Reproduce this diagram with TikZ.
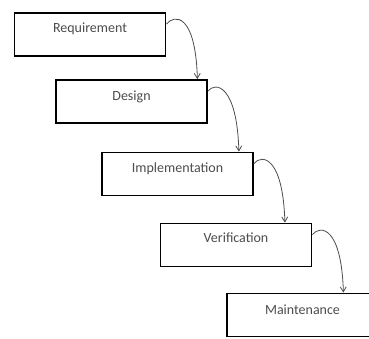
\documentclass[tikz,border=0pt]{standalone}
\usepackage{fontspec}
\setmainfont{Carlito}
\usetikzlibrary{arrows.meta}
\begin{document}
\begin{tikzpicture}[x=1pt,y=-1pt,
  stage/.style={draw=black, line width=1.8pt, minimum width=151pt, minimum height=43pt,
    inner sep=0pt, font=\fontsize{14}{16}\selectfont, text=black!70},
  flow/.style={draw=black!70, line width=0.8pt, -{Straight Barb[length=5pt,width=6pt]}}]
\useasboundingbox (0,0) rectangle (369,338);
\clip (0,0) rectangle (369,338);
\node[stage] (r1) at (90,34.5) {\raisebox{2.5pt}[0pt][0pt]{Requirement}};
\node[stage] (r2) at (131.5,101.5) {\raisebox{1pt}[0pt][0pt]{Design}};
\node[stage] (r3) at (177.5,174) {\raisebox{2pt}[0pt][0pt]{Implementation}};
\node[stage] (r4) at (236,245) {\raisebox{3pt}[0pt][0pt]{Verification}};
\node[stage] (r5) at (302.5,315) {\raisebox{1pt}[0pt][0pt]{Maintenance}};
\foreach \a/\b in {r1/r2,r2/r3,r3/r4,r4/r5}{
  \draw[flow] ([yshift=-12pt]\a.north east) .. controls +(8,-10) and +(-2,-66) .. ([xshift=31pt]\a.east |- \b.north);
}
\end{tikzpicture}
\end{document}
